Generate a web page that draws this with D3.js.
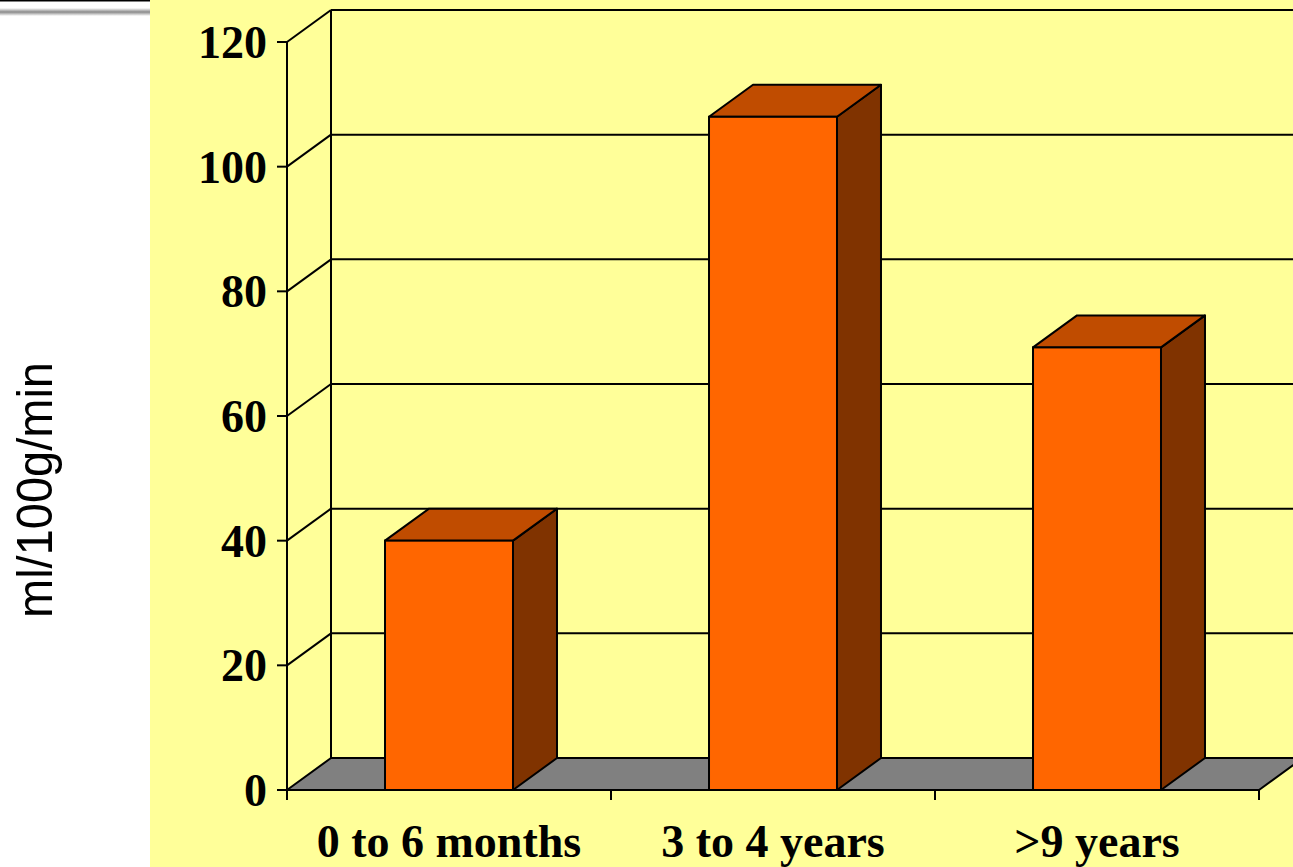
<!DOCTYPE html>
<html><head><meta charset="utf-8">
<script src="https://cdn.jsdelivr.net/npm/d3@7"></script>
<style>html,body{margin:0;padding:0;background:#fff;}svg{display:block;}</style>
</head><body>
<svg id="c" width="1293" height="867"></svg>
<script>
const categories = ["0 to 6 months", "3 to 4 years", ">9 years"];
const values = [40, 108, 71];
const yTicks = [0, 20, 40, 60, 80, 100, 120];
const yLabel = "ml/100g/min";

const svg = d3.select("#c");
const W = 1293, H = 867;
const x0 = 287, x1 = 1259, yBottom = 790, yTop = 42;
const dx = 44, dy = -32;

const y = d3.scaleLinear().domain([0, 120]).range([yBottom, yTop]);
const x = d3.scaleBand().domain(categories).range([x0, x1]).paddingInner(0.605).paddingOuter(0.3025);
const step = x.step(), bw = x.bandwidth();

// backgrounds
svg.append("rect").attr("x", 0).attr("y", 0).attr("width", W).attr("height", H).attr("fill", "#ffffff");
svg.append("rect").attr("x", 150).attr("y", 0).attr("width", W - 150).attr("height", H).attr("fill", "#FFFF99");
// top-left rule with shadow
const defs = svg.append("defs");
const g1 = defs.append("linearGradient").attr("id", "sh").attr("x1", 0).attr("y1", 0).attr("x2", 0).attr("y2", 1);
g1.append("stop").attr("offset", "0").attr("stop-color", "#ffffff");
g1.append("stop").attr("offset", "0.5").attr("stop-color", "#8a8a8a");
g1.append("stop").attr("offset", "1").attr("stop-color", "#ffffff");
svg.append("rect").attr("x", 0).attr("y", 8).attr("width", 150).attr("height", 8).attr("fill", "url(#sh)");
svg.append("line").attr("x1", 0).attr("x2", 150).attr("y1", 0.75).attr("y2", 0.75).attr("stroke", "#000").attr("stroke-width", 1.5);

const line = (ax, ay, bx, by, w) => svg.append("line").attr("x1", ax).attr("y1", ay).attr("x2", bx).attr("y2", by)
  .attr("stroke", "#000").attr("stroke-width", w || 2);

// back wall gridlines and left wall diagonals
yTicks.forEach(t => {
  const yy = y(t);
  if (t > 0) {
    line(x0 + dx, yy + dy, x1 + dx + 50, yy + dy);
    line(x0, yy, x0 + dx, yy + dy);
  }
});
// back wall left edge
line(x0 + dx, y(120) + dy, x0 + dx, y(0) + dy);

// floor
svg.append("path")
  .attr("d", `M${x0},${y(0)} L${x0 + dx},${y(0) + dy} L${x1 + dx},${y(0) + dy} L${x1},${y(0)} Z`)
  .attr("fill", "#808080").attr("stroke", "#000").attr("stroke-width", 2).attr("stroke-linejoin", "round");

// bars
const bars = svg.append("g");
categories.forEach((c, i) => {
  const bx = x(c), by = y(values[i]), b0 = y(0);
  // side
  bars.append("path")
    .attr("d", `M${bx + bw},${by} L${bx + bw + dx},${by + dy} L${bx + bw + dx},${b0 + dy} L${bx + bw},${b0} Z`)
    .attr("fill", "#803300").attr("stroke", "#000").attr("stroke-width", 2).attr("stroke-linejoin", "round");
  // top
  bars.append("path")
    .attr("d", `M${bx},${by} L${bx + dx},${by + dy} L${bx + bw + dx},${by + dy} L${bx + bw},${by} Z`)
    .attr("fill", "#C04C00").attr("stroke", "#000").attr("stroke-width", 2).attr("stroke-linejoin", "round");
  // front
  bars.append("rect").attr("x", bx).attr("y", by).attr("width", bw).attr("height", b0 - by)
    .attr("fill", "#FF6600").attr("stroke", "#000").attr("stroke-width", 2);
});

// y axis (front)
line(x0, y(120), x0, y(0) + 10);
yTicks.forEach(t => {
  line(x0 - 10, y(t), x0, y(t));
  svg.append("text").attr("x", 267).attr("y", y(t) + 16)
    .attr("text-anchor", "end")
    .attr("font-family", "'Liberation Serif','Times New Roman',serif").attr("font-weight", "bold")
    .attr("font-size", 46).attr("fill", "#000").text(t);
});
// x axis ticks
d3.range(categories.length + 1).forEach(i => {
  const tx = x0 + i * step;
  line(tx, y(0), tx, y(0) + 10);
});
categories.forEach(c => {
  svg.append("text").attr("x", x(c) + bw / 2).attr("y", 857)
    .attr("text-anchor", "middle")
    .attr("font-family", "'Liberation Serif','Times New Roman',serif").attr("font-weight", "bold")
    .attr("font-size", 46).attr("fill", "#000").text(c);
});

// y label
svg.append("text")
  .attr("transform", "translate(52,490) rotate(-90)")
  .attr("text-anchor", "middle")
  .attr("font-family", "'Liberation Sans',Arial,sans-serif")
  .attr("font-size", 50).attr("fill", "#000")
  .attr("textLength", 256).attr("lengthAdjust", "spacingAndGlyphs")
  .text(yLabel);
</script>
</body></html>
